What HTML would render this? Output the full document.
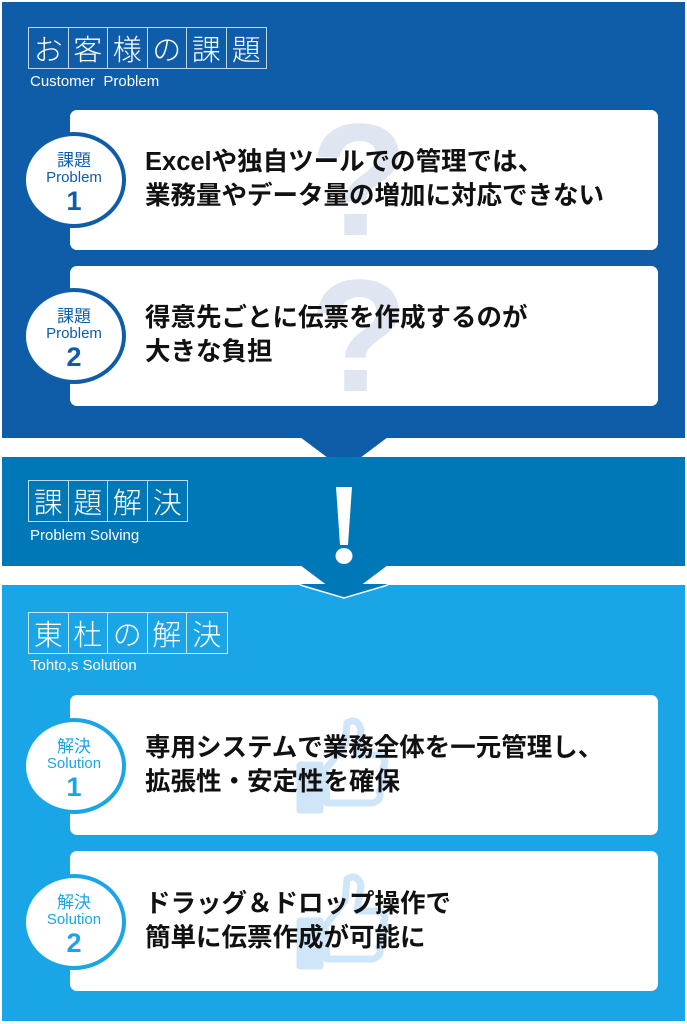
<!DOCTYPE html>
<html><head><meta charset="utf-8"><style>
*{margin:0;padding:0;box-sizing:border-box}
html,body{width:687px;height:1024px}
body{background:#fff;position:relative;overflow:hidden;font-family:"Liberation Sans","Noto Sans CJK JP",sans-serif}
.sec{position:absolute;left:2px;width:683px}
.hdr{position:absolute;left:28px;display:flex;border:1px solid rgba(255,255,255,.75);z-index:2}
.hdr span{width:39.5px;height:40px;border-right:1px solid rgba(255,255,255,.75);color:#fff;font-size:29px;line-height:40px;text-align:center;font-weight:300;font-family:"Noto Sans CJK JP",sans-serif}
.hdr span:last-child{border-right:none}
.sub{position:absolute;left:30px;color:#fff;font-size:15px;z-index:2;white-space:nowrap}
.layer{position:absolute;left:0;top:0;width:687px;height:1024px;z-index:3}
.card{position:absolute;left:70px;width:588px;height:140px;background:#fff;border-radius:7px;overflow:hidden}
.circ{position:absolute;left:22px;width:104px;height:96px;border-radius:50%;background:#fff;border:4px solid #0f5ca8;text-align:center;color:#0f5ca8;white-space:nowrap}
.circ .a{font-size:17px;margin-top:13px;line-height:20px;font-family:"Noto Sans CJK JP",sans-serif}
.circ .b{font-size:15px;line-height:17px}
.circ .c{font-size:27px;font-weight:bold;line-height:30px}
.txt{position:absolute;left:145px;font-size:25.5px;font-weight:bold;line-height:34px;color:#111;white-space:nowrap}
.q{position:absolute;left:240px;top:-20px;font-size:160px;font-weight:bold;color:#dfe6f2;font-family:"Liberation Sans",sans-serif;line-height:180px}
.sol .circ{border-color:#1aa5e6;color:#1aa5e6}
</style></head><body>
<div class="sec" style="top:2px;height:436px;background:#0f5ca8"></div>
<svg style="position:absolute;left:0;top:0" width="687" height="1024">
<polygon points="300,437 388,437 344,470" fill="#0f5ca8"/>
<rect x="2" y="457" width="683" height="109" fill="#0078b8"/>
<polygon points="300,565 388,565 344,598" fill="#0078b8"/>
</svg>
<div class="sec" style="top:585px;height:436px;background:#1aa5e6"></div>
<svg style="position:absolute;left:0;top:0;z-index:1" width="687" height="1024">
<polygon points="300,584 388,584 344,598" fill="#0078b8"/>
<polyline points="300,585 344,598 388,585" fill="none" stroke="#fff" stroke-width="1.5"/>
<path d="M336 487 H352 L348 545 H340 Z" fill="#fff"/>
<ellipse cx="344" cy="556" rx="8.5" ry="8" fill="#fff"/>
</svg>
<div class="hdr" style="top:27px"><span>お</span><span>客</span><span>様</span><span>の</span><span>課</span><span>題</span></div>
<div class="sub" style="top:73px">Customer&nbsp; Problem</div>
<div class="hdr" style="top:480px"><span>課</span><span>題</span><span>解</span><span>決</span></div>
<div class="sub" style="top:527px">Problem Solving</div>
<div class="hdr" style="top:612px"><span>東</span><span>杜</span><span>の</span><span>解</span><span>決</span></div>
<div class="sub" style="top:657px">Tohto,s Solution</div>

<div class="layer">
<div class="card" style="top:110px"><div class="q">?</div></div>
<div class="circ" style="top:132px"><div class="a">課題</div><div class="b">Problem</div><div class="c">1</div></div>
<div class="txt" style="top:145px">Excelや独自ツールでの管理では、<br>業務量やデータ量の増加に対応できない</div>

<div class="card" style="top:266px"><div class="q">?</div></div>
<div class="circ" style="top:288px"><div class="a">課題</div><div class="b">Problem</div><div class="c">2</div></div>
<div class="txt" style="top:301px">得意先ごとに伝票を作成するのが<br>大きな負担</div>
</div>

<div class="layer sol">
<div class="card" style="top:695px"><svg style="position:absolute;left:225px;top:20px" width="100" height="100"><g fill="none" stroke="#cfe5f8" stroke-width="7" stroke-linejoin="round"><rect x="5" y="50" width="20" height="45" fill="#cfe5f8"/><path d="M30 55 L50 30 L52 8 Q62 2 66 14 L62 40 H85 Q93 44 88 52 Q94 58 86 64 Q92 70 84 76 Q88 84 78 88 H32 Z"/></g></svg></div>
<div class="circ" style="top:718px"><div class="a">解決</div><div class="b">Solution</div><div class="c">1</div></div>
<div class="txt" style="top:731px">専用システムで業務全体を一元管理し、<br>拡張性・安定性を確保</div>

<div class="card" style="top:851px"><svg style="position:absolute;left:225px;top:20px" width="100" height="100"><g fill="none" stroke="#cfe5f8" stroke-width="7" stroke-linejoin="round"><rect x="5" y="50" width="20" height="45" fill="#cfe5f8"/><path d="M30 55 L50 30 L52 8 Q62 2 66 14 L62 40 H85 Q93 44 88 52 Q94 58 86 64 Q92 70 84 76 Q88 84 78 88 H32 Z"/></g></svg></div>
<div class="circ" style="top:874px"><div class="a">解決</div><div class="b">Solution</div><div class="c">2</div></div>
<div class="txt" style="top:887px">ドラッグ＆ドロップ操作で<br>簡単に伝票作成が可能に</div>
</div>
</body></html>
